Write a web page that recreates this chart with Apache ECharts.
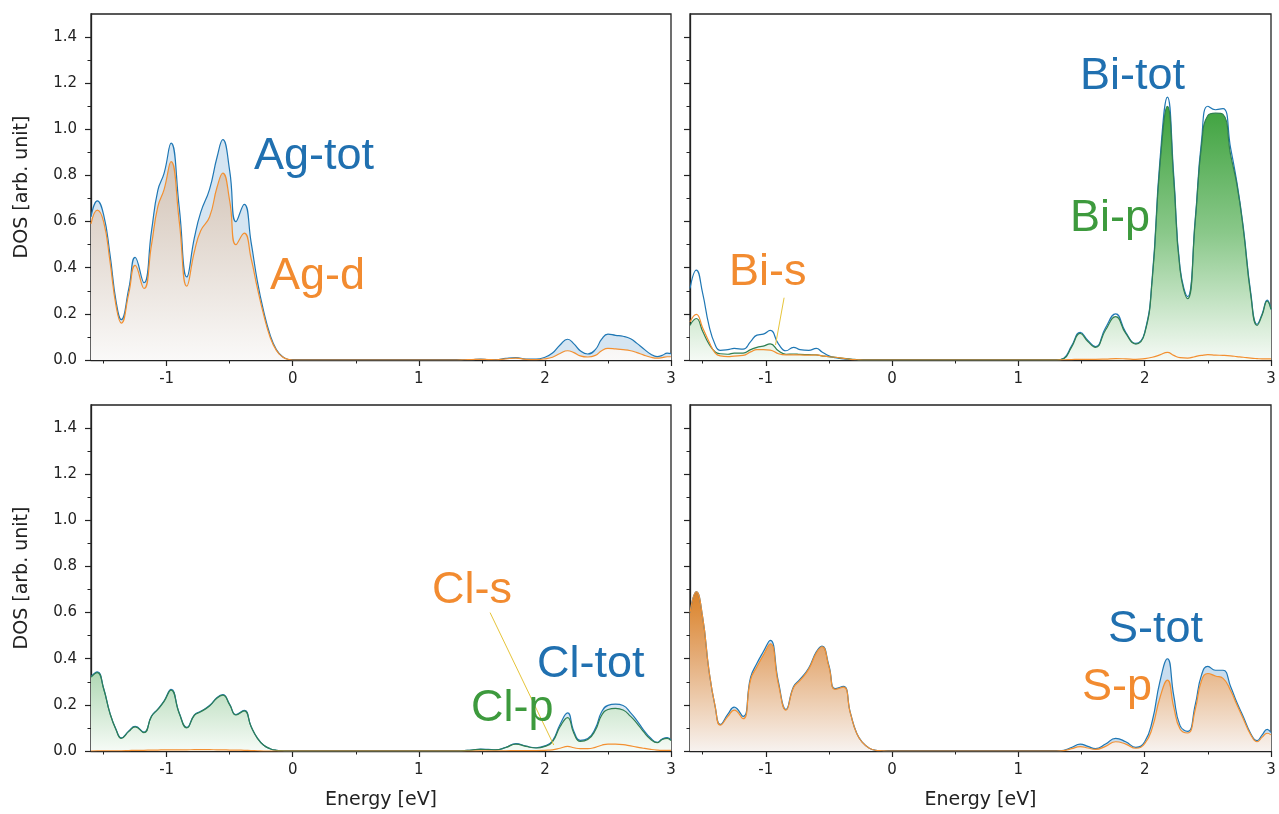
<!DOCTYPE html>
<html>
<head>
<meta charset="utf-8">
<script src="https://cdn.jsdelivr.net/npm/echarts@6/dist/echarts.min.js"></script>
<style>
  html, body { margin: 0; padding: 0; background: #fff; }
  #chart { width: 1279px; height: 814px; }
</style>
</head>
<body>
<div id="chart"></div>
<script>
// Energy grid (eV) shared by all projected DOS curves
const energy = [
  -1.6, -1.55, -1.5, -1.45, -1.4, -1.36, -1.3, -1.25, -1.18, -1.12,
  -1.07, -1.02, -0.965, -0.9, -0.84, -0.78, -0.73, -0.66, -0.6, -0.555,
  -0.5, -0.45, -0.385, -0.33, -0.28, -0.23, -0.18, -0.13, -0.08, -0.03,
  0,
  1.3, 1.36, 1.42, 1.49, 1.55, 1.61, 1.69, 1.77, 1.85, 1.93,
  2.0, 2.06, 2.12, 2.18, 2.23, 2.28, 2.34, 2.4, 2.45, 2.5,
  2.56, 2.62, 2.68, 2.73, 2.78, 2.84, 2.89, 2.93, 2.97, 3.0
];

// Ag
const agTot = [
  0.62, 0.69, 0.63, 0.46, 0.25, 0.175, 0.31, 0.445, 0.335, 0.56,
  0.735, 0.81, 0.94, 0.66, 0.36, 0.53, 0.64, 0.74, 0.88, 0.955,
  0.82, 0.60, 0.675, 0.51, 0.34, 0.21, 0.11, 0.045, 0.014, 0.002,
  0,
  0, 0.001, 0.002, 0.004, 0.002, 0.001, 0.007, 0.01, 0.004, 0.004,
  0.012, 0.03, 0.065, 0.09, 0.07, 0.04, 0.026, 0.045, 0.09, 0.112,
  0.107, 0.103, 0.092, 0.072, 0.05, 0.025, 0.015, 0.02, 0.03, 0.028
];
const agD = [
  0.59, 0.65, 0.60, 0.43, 0.23, 0.16, 0.29, 0.41, 0.31, 0.50,
  0.665, 0.74, 0.86, 0.60, 0.32, 0.47, 0.56, 0.62, 0.75, 0.81,
  0.69, 0.50, 0.55, 0.44, 0.31, 0.195, 0.10, 0.042, 0.013, 0.002,
  0,
  0, 0.001, 0.002, 0.003, 0.002, 0.001, 0.005, 0.008, 0.003, 0.002,
  0.005, 0.012, 0.028, 0.04, 0.032, 0.018, 0.013, 0.02, 0.04, 0.05,
  0.048, 0.045, 0.04, 0.032, 0.022, 0.012, 0.008, 0.01, 0.014, 0.014
];

// Bi
const biTot = [
  0.31, 0.39, 0.29, 0.15, 0.065, 0.042, 0.045, 0.05, 0.047, 0.08,
  0.108, 0.112, 0.128, 0.07, 0.04, 0.055, 0.045, 0.042, 0.05, 0.035,
  0.018, 0.01, 0.005, 0.003, 0.001, 0, 0, 0, 0, 0,
  0,
  0, 0.008, 0.06, 0.12, 0.085, 0.058, 0.14, 0.2, 0.12, 0.072,
  0.12, 0.36, 0.86, 1.14, 0.80, 0.40, 0.275, 0.61, 0.95, 1.10,
  1.085, 1.09, 0.92, 0.77, 0.58, 0.29, 0.155, 0.2, 0.26, 0.22
];
const biP = [
  0.15, 0.18, 0.125, 0.07, 0.035, 0.027, 0.025, 0.03, 0.03, 0.045,
  0.055, 0.06, 0.07, 0.04, 0.025, 0.026, 0.024, 0.023, 0.022, 0.018,
  0.014, 0.012, 0.007, 0.004, 0.002, 0, 0, 0, 0, 0,
  0,
  0, 0.006, 0.055, 0.115, 0.08, 0.055, 0.13, 0.188, 0.115, 0.069,
  0.115, 0.35, 0.84, 1.10, 0.78, 0.39, 0.266, 0.60, 0.93, 1.06,
  1.07, 1.065, 0.89, 0.76, 0.57, 0.28, 0.15, 0.195, 0.255, 0.22
];
const biS = [
  0.165, 0.198, 0.14, 0.08, 0.03, 0.018, 0.015, 0.017, 0.02, 0.035,
  0.045, 0.045, 0.043, 0.027, 0.022, 0.022, 0.022, 0.021, 0.022, 0.018,
  0.014, 0.012, 0.007, 0.003, 0.001, 0, 0, 0, 0, 0,
  0,
  0, 0.001, 0.002, 0.003, 0.003, 0.003, 0.004, 0.006, 0.005, 0.003,
  0.006, 0.012, 0.022, 0.033, 0.02, 0.01, 0.008, 0.015, 0.02, 0.023,
  0.021, 0.02, 0.018, 0.015, 0.012, 0.008, 0.006, 0.005, 0.005, 0.005
];

// Cl
const clTot = [
  0.322, 0.343, 0.272, 0.165, 0.092, 0.057, 0.087, 0.107, 0.082, 0.152,
  0.182, 0.218, 0.267, 0.165, 0.102, 0.157, 0.172, 0.197, 0.232, 0.244,
  0.202, 0.158, 0.176, 0.106, 0.056, 0.025, 0.01, 0.003, 0.001, 0,
  0,
  0, 0.002, 0.004, 0.008, 0.007, 0.005, 0.016, 0.032, 0.021, 0.014,
  0.022, 0.044, 0.115, 0.165, 0.085, 0.046, 0.054, 0.098, 0.17, 0.198,
  0.203, 0.197, 0.165, 0.132, 0.093, 0.055, 0.038, 0.052, 0.058, 0.048
];
const clP = [
  0.32, 0.34, 0.27, 0.163, 0.09, 0.055, 0.085, 0.105, 0.08, 0.15,
  0.18, 0.215, 0.264, 0.163, 0.10, 0.155, 0.17, 0.195, 0.23, 0.242,
  0.2, 0.156, 0.174, 0.105, 0.055, 0.025, 0.01, 0.003, 0.001, 0,
  0,
  0, 0.002, 0.004, 0.007, 0.006, 0.005, 0.015, 0.03, 0.02, 0.013,
  0.02, 0.04, 0.105, 0.145, 0.076, 0.042, 0.05, 0.09, 0.155, 0.18,
  0.185, 0.178, 0.15, 0.12, 0.085, 0.05, 0.036, 0.05, 0.055, 0.045
];
const clS = [
  0, 0.001, 0.001, 0.001, 0.001, 0.001, 0.002, 0.003, 0.003, 0.004,
  0.004, 0.005, 0.005, 0.005, 0.005, 0.006, 0.006, 0.006, 0.005, 0.005,
  0.004, 0.004, 0.003, 0.002, 0.001, 0, 0, 0, 0, 0,
  0,
  0, 0, 0, 0.001, 0.001, 0.001, 0.001, 0.002, 0.002, 0.002,
  0.003, 0.005, 0.012, 0.02, 0.014, 0.01, 0.01, 0.016, 0.025, 0.03,
  0.03, 0.028, 0.022, 0.017, 0.012, 0.007, 0.004, 0.003, 0.003, 0.003
];

// S
const sTot = [
  0.60, 0.69, 0.58, 0.35, 0.19, 0.115, 0.16, 0.19, 0.15, 0.32,
  0.38, 0.43, 0.48, 0.30, 0.18, 0.28, 0.31, 0.36, 0.43, 0.455,
  0.37, 0.27, 0.28, 0.165, 0.077, 0.035, 0.012, 0.003, 0.001, 0,
  0,
  0, 0.003, 0.015, 0.03, 0.02, 0.01, 0.03, 0.055, 0.04, 0.016,
  0.04, 0.13, 0.30, 0.40, 0.24, 0.11, 0.085, 0.2, 0.33, 0.367,
  0.35, 0.35, 0.28, 0.21, 0.15, 0.075, 0.045, 0.07, 0.094, 0.08
];
const sP = [
  0.60, 0.69, 0.58, 0.35, 0.19, 0.112, 0.15, 0.177, 0.14, 0.31,
  0.365, 0.415, 0.465, 0.29, 0.177, 0.275, 0.305, 0.355, 0.425, 0.452,
  0.365, 0.267, 0.277, 0.163, 0.076, 0.034, 0.012, 0.003, 0.001, 0,
  0,
  0, 0.002, 0.01, 0.019, 0.013, 0.007, 0.02, 0.04, 0.03, 0.012,
  0.032, 0.1, 0.23, 0.307, 0.19, 0.095, 0.078, 0.18, 0.305, 0.336,
  0.325, 0.315, 0.262, 0.2, 0.14, 0.07, 0.04, 0.06, 0.077, 0.07
];

// Leader lines for the small-orbital labels, in (energy, DOS) units
const biSLeader = [[-0.855, 0.27], [-0.923, 0.065]];
const clSLeader = [[1.565, 0.60], [2.07, 0.026]];

// Tick positions
const xMajorTicks = [-1, 0, 1, 2, 3];
const xMinorTicks = [-1.5, -0.5, 0.5, 1.5, 2.5];
const yMajorTicks = [0, 0.2, 0.4, 0.6, 0.8, 1.0, 1.2, 1.4];
const yMinorTicks = [0.1, 0.3, 0.5, 0.7, 0.9, 1.1, 1.3];

const X_MIN = -1.6, X_MAX = 3, Y_MIN = 0, Y_MAX = 1.5;

const BLUE = '#1f77b4', ORANGE = '#f39031', GREEN_LINE = '#307f52';
const TXT_BLUE = '#2070b0', TXT_ORANGE = '#f28b30', TXT_GREEN = '#3d9a3d';
const INK = '#222';
const TICK_FONT = 'DejaVu Sans';

const panels = [
  { left: 91,  top: 14,  width: 580, height: 346, yLabels: true,  xName: false },
  { left: 690, top: 14,  width: 581, height: 346, yLabels: false, xName: false },
  { left: 91,  top: 405, width: 580, height: 346, yLabels: true,  xName: true },
  { left: 690, top: 405, width: 581, height: 346, yLabels: false, xName: true }
];

const grid = [], xAxis = [], yAxis = [];
panels.forEach((p, gi) => {
  grid.push({
    left: p.left, top: p.top, width: p.width, height: p.height,
    show: true, borderColor: INK, borderWidth: 1.3, backgroundColor: 'transparent'
  });
  // major x ticks with labels
  xAxis.push({
    gridIndex: gi, type: 'value', min: X_MIN, max: X_MAX, position: 'bottom',
    axisLine: { show: true, onZero: false, lineStyle: { color: INK, width: 1.3 } },
    axisTick: { show: true, customValues: xMajorTicks, length: 6, lineStyle: { color: INK, width: 1.2 } },
    axisLabel: { show: true, customValues: xMajorTicks, margin: 12, color: INK,
                 fontFamily: TICK_FONT, fontSize: 15 },
    splitLine: { show: false },
    name: p.xName ? 'Energy [eV]' : '', nameLocation: 'middle', nameGap: 40,
    nameTextStyle: { color: INK, fontFamily: TICK_FONT, fontSize: 19 }
  });
  // minor x ticks
  xAxis.push({
    gridIndex: gi, type: 'value', min: X_MIN, max: X_MAX, position: 'bottom',
    axisLine: { show: false, onZero: false },
    axisTick: { show: true, customValues: xMinorTicks, length: 3.5, lineStyle: { color: INK, width: 1 } },
    axisLabel: { show: false }, splitLine: { show: false }
  });
  yAxis.push({
    gridIndex: gi, type: 'value', min: Y_MIN, max: Y_MAX, position: 'left',
    axisLine: { show: true, onZero: false, lineStyle: { color: INK, width: 1.3 } },
    axisTick: { show: true, customValues: yMajorTicks, length: 6, lineStyle: { color: INK, width: 1.2 } },
    axisLabel: { show: p.yLabels, customValues: yMajorTicks, margin: 14, color: INK,
                 fontFamily: TICK_FONT, fontSize: 15, formatter: v => v.toFixed(1) },
    splitLine: { show: false },
    name: p.yLabels ? 'DOS [arb. unit]' : '', nameLocation: 'middle', nameGap: 59,
    nameTextStyle: { color: INK, fontFamily: TICK_FONT, fontSize: 19 }
  });
  // minor y ticks
  yAxis.push({
    gridIndex: gi, type: 'value', min: Y_MIN, max: Y_MAX, position: 'left',
    axisLine: { show: false, onZero: false },
    axisTick: { show: true, customValues: yMinorTicks, length: 3.5, lineStyle: { color: INK, width: 1 } },
    axisLabel: { show: false }, splitLine: { show: false }
  });
});

function vgrad(stops) {
  return { type: 'linear', x: 0, y: 0, x2: 0, y2: 1,
           colorStops: stops.map(s => ({ offset: s[0], color: s[1] })) };
}

function dosSeries(gi, name, values, color, fill) {
  const s = {
    type: 'line', name: name, xAxisIndex: gi * 2, yAxisIndex: gi * 2,
    data: energy.map((e, i) => [e, values[i]]),
    symbol: 'none', smooth: 0.5, silent: true,
    lineStyle: { color: color, width: 1.2 }
  };
  if (fill) s.areaStyle = { color: fill, opacity: 1 };
  return s;
}

function leader(gi, pts) {
  return {
    type: 'line', xAxisIndex: gi * 2, yAxisIndex: gi * 2, data: pts,
    symbol: 'none', silent: true, z: 5,
    lineStyle: { color: '#e6c43a', width: 1 }
  };
}

const series = [
  // Ag panel
  dosSeries(0, 'Ag-tot', agTot, BLUE, '#d5e5f2'),
  dosSeries(0, 'Ag-d', agD, ORANGE, vgrad([[0, '#d3c4b7'], [1, '#faf9f8']])),
  // Bi panel
  dosSeries(1, 'Bi-tot', biTot, BLUE, null),
  dosSeries(1, 'Bi-p', biP, GREEN_LINE, vgrad([[0, '#3ea23e'], [0.5, '#8ac88a'], [1, '#f5faf5']])),
  dosSeries(1, 'Bi-s', biS, ORANGE, null),
  leader(1, biSLeader),
  // Cl panel
  dosSeries(2, 'Cl-tot', clTot, BLUE, '#d9e8f4'),
  dosSeries(2, 'Cl-p', clP, GREEN_LINE, vgrad([[0, '#b0d8b4'], [1, '#f6fbf6']])),
  dosSeries(2, 'Cl-s', clS, ORANGE, null),
  leader(2, clSLeader),
  // S panel
  dosSeries(3, 'S-tot', sTot, BLUE, '#c8ddef'),
  dosSeries(3, 'S-p', sP, ORANGE, vgrad([[0, '#db8227'], [0.4, '#e4ab76'], [1, '#f7f2ef']]))
];

function tag(text, x, y, color) {
  return {
    type: 'text', x: x, y: y, z: 10, silent: true,
    style: { text: text, fill: color, fontFamily: 'Liberation Sans', fontSize: 45,
             align: 'left', verticalAlign: 'middle' }
  };
}

const graphic = [
  tag('Ag-tot', 254, 157, TXT_BLUE),
  tag('Ag-d', 270, 277, TXT_ORANGE),
  tag('Bi-tot', 1080, 77, TXT_BLUE),
  tag('Bi-p', 1070, 219, TXT_GREEN),
  tag('Bi-s', 729, 273, TXT_ORANGE),
  tag('Cl-s', 432, 591, TXT_ORANGE),
  tag('Cl-tot', 537, 665, TXT_BLUE),
  tag('Cl-p', 471, 709, TXT_GREEN),
  tag('S-tot', 1108, 630, TXT_BLUE),
  tag('S-p', 1082, 688, TXT_ORANGE)
];

const chart = echarts.init(document.getElementById('chart'), null, { renderer: 'canvas' });
chart.setOption({
  backgroundColor: '#fff',
  animation: false,
  grid: grid,
  xAxis: xAxis,
  yAxis: yAxis,
  series: series,
  graphic: graphic
});
</script>
</body>
</html>
